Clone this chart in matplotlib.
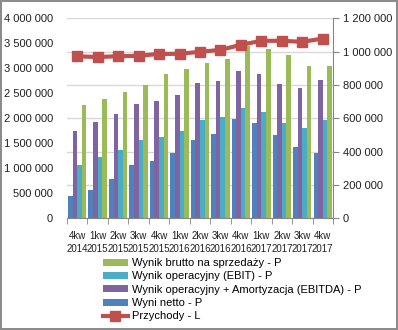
import numpy as np
import matplotlib
matplotlib.use('Agg')
import matplotlib.pyplot as plt
from matplotlib.ticker import FuncFormatter, FixedLocator

plt.rcParams['font.family'] = ['Liberation Sans', 'DejaVu Sans']

# data
quarters = ['4kw\n2014', '1kw\n2015', '2kw\n2015', '3kw\n2015', '4kw\n2015',
            '1kw\n2016', '2kw\n2016', '3kw\n2016', '4kw\n2016', '1kw\n2017',
            '2kw\n2017', '3kw\n2017', '4kw\n2017']
wynik_netto = [134000, 170000, 236000, 320000, 344000, 394000, 470000,
               506000, 596000, 572000, 500000, 428000, 392000]
ebitda = [524000, 578000, 626000, 686000, 704000, 740000, 812000,
          824000, 884000, 866000, 806000, 782000, 830000]
ebit = [320000, 368000, 410000, 470000, 488000, 524000, 590000,
        608000, 662000, 638000, 572000, 542000, 590000]
brutto = [680000, 716000, 758000, 800000, 866000, 896000, 932000,
          956000, 1034000, 1016000, 980000, 914000, 914000]
przychody = [3240000, 3225000, 3242000, 3250000, 3288000, 3290000, 3330000,
             3368000, 3470000, 3550000, 3550000, 3530000, 3595000]

c_green = '#9BBB59'
c_cyan = '#4BACC6'
c_purple = '#8064A2'
c_blue = '#4F81BD'
c_red = '#C0504D'
grey = '#868686'

def spaced(v, pos):
    return '{:,}'.format(int(v)).replace(',', ' ')

fig = plt.figure(figsize=(3.98, 3.30), dpi=100, edgecolor='#8c8c8c', linewidth=1.5)
ax = fig.add_axes([0.1683, 0.3385, 0.6683, 0.606])
x = np.arange(len(quarters))
w = 0.225

# bars on the right-hand scale (P)
b_netto = ax.bar(x - 1.5*w, wynik_netto, w, color=c_blue, label='Wyni netto - P')
b_ebitda = ax.bar(x - 0.5*w, ebitda, w, color=c_purple,
                  label='Wynik operacyjny + Amortyzacja (EBITDA) - P')
b_ebit = ax.bar(x + 0.5*w, ebit, w, color=c_cyan, label='Wynik operacyjny (EBIT) - P')
b_brutto = ax.bar(x + 1.5*w, brutto, w, color=c_green, label='Wynik brutto na sprzedaży - P')

# line on the left-hand scale (L); twinx puts the first axis' ticks left, so fix after
ax2 = ax.twinx()
ln, = ax2.plot(x, przychody, color=c_red, linewidth=3, marker='s', markersize=7,
               label='Przychody - L')

ax.set_xlim(-0.5, len(quarters) - 0.5)
ax.set_ylim(0, 1200000)
ax.set_yticks(np.arange(0, 1200001, 200000))
ax.yaxis.set_major_formatter(FuncFormatter(spaced))
ax.yaxis.tick_right()
ax.grid(axis='y', color='#d9d9d9', linewidth=1)
ax.set_axisbelow(True)
for s in ['top', 'left']:
    ax.spines[s].set_visible(False)
ax.spines['right'].set_color(grey)
ax.spines['bottom'].set_color(grey)
ax.tick_params(axis='y', which='major', length=4, color=grey, labelsize=8,
               labelcolor='#202020', pad=3)

ax.set_xticks(x)
ax.set_xticklabels(quarters, fontsize=7, linespacing=1.45)
ax.xaxis.set_minor_locator(FixedLocator(np.arange(-0.5, len(quarters), 1)))
ax.tick_params(axis='x', which='major', length=0, pad=9, labelcolor='#202020')
ax.tick_params(axis='x', which='minor', length=4, color=grey)

ax2.set_ylim(0, 4000000)
ax2.set_yticks(np.arange(0, 4000001, 500000))
ax2.yaxis.set_major_formatter(FuncFormatter(spaced))
ax2.yaxis.tick_left()
ax2.tick_params(axis='y', length=0, labelsize=8, labelcolor='#202020', pad=10)
for s in ax2.spines.values():
    s.set_visible(False)

handles = [b_brutto, b_ebit, b_ebitda, b_netto, ln]
fig.legend(handles, [h.get_label() for h in handles], loc='upper left',
           bbox_to_anchor=(0.245, 0.235), frameon=False, fontsize=8,
           handlelength=2.2, handleheight=0.6, labelspacing=0.3,
           handletextpad=0.4, borderpad=0)

fig.savefig('out.png', dpi=100, edgecolor=fig.get_edgecolor())
